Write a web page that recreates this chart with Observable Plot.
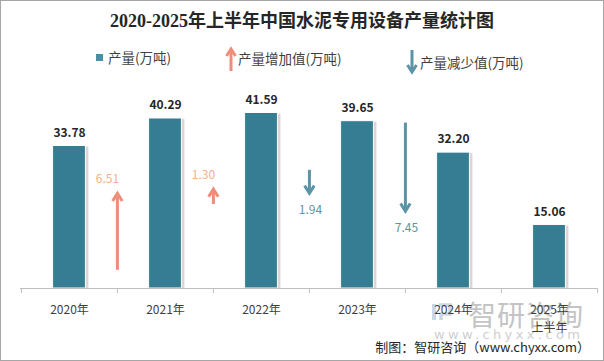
<!DOCTYPE html>
<html><head><meta charset="utf-8">
<script src="https://cdn.jsdelivr.net/npm/d3@7"></script>
<script src="https://cdn.jsdelivr.net/npm/@observablehq/plot@0.6"></script>
<style>
body{margin:0;background:#fff;}
#wrap{position:relative;width:604px;height:361px;overflow:hidden;font-family:"Noto Sans CJK SC","Noto Sans",sans-serif;background:#fff;}
#title{position:absolute;left:0;top:12px;width:604px;text-align:center;font-weight:bold;font-size:18px;line-height:18px;font-family:"Liberation Serif","Noto Sans CJK SC",serif;color:#262626;}
.leg{position:absolute;font-size:13.5px;color:#404040;white-space:nowrap;line-height:14px;}
.legicon{position:absolute;}
#chart{position:absolute;left:0;top:76px;}
#frame{position:absolute;left:0;top:0;width:602px;height:359px;border:1px solid #a6a6a6;pointer-events:none;}
#caption{position:absolute;right:14px;top:339px;font-size:13px;line-height:16px;color:#262626;white-space:nowrap;}
#wm1{position:absolute;left:468px;top:298px;font-size:28px;line-height:32px;color:#c4c4c4;letter-spacing:1px;white-space:nowrap;}
#wm2{position:absolute;left:434px;top:327px;font-size:13px;line-height:15px;color:#cfcfcf;letter-spacing:3.4px;white-space:nowrap;font-family:"DejaVu Sans",sans-serif;}
</style></head>
<body>
<div id="wrap">
  <div id="title">2020-2025年上半年中国水泥专用设备产量统计图</div>
  <div class="legicon" style="left:96px;top:54px;width:7px;height:7px;background:#4a8fa5;"></div>
  <div class="leg" style="left:108px;top:50px;">产量(万吨)</div>
  <svg class="legicon" style="left:224px;top:46px;" width="14" height="26"><path d="M7,25V4" stroke="#ef8e78" stroke-width="3" fill="none"/><path d="M2.5,10L7,3L11.5,10" stroke="#ef8e78" stroke-width="3" fill="none"/></svg>
  <div class="leg" style="left:238px;top:51px;">产量增加值(万吨)</div>
  <svg class="legicon" style="left:405px;top:49px;" width="14" height="26"><path d="M7,1V22" stroke="#5c93a7" stroke-width="3" fill="none"/><path d="M2.5,16L7,23L11.5,16" stroke="#5c93a7" stroke-width="3" fill="none"/></svg>
  <div class="leg" style="left:420px;top:55px;">产量减少值(万吨)</div>
  <svg class="legicon" style="left:431px;top:302px;" width="22" height="20"><rect x="1" y="2" width="4" height="16" fill="#c9d7e6"/><path d="M8,3H19V12H10V18" stroke="#c9d7e6" stroke-width="3.5" fill="none"/></svg>
  <div id="wm1">智研咨询</div>
  <div id="wm2">www.chyxx.com</div>
  <div id="chart"></div>
  <div id="caption">制图：智研咨询（www.chyxx.com）</div>
  <div id="frame"></div>
</div>
<script>
// ---- data ----
const years = ["2020年", "2021年", "2022年", "2023年", "2024年", "2025年\n上半年"];
const output = [33.78, 40.29, 41.59, 39.65, 32.20, 15.06];
const changeYears = ["2021年", "2022年", "2023年", "2024年"]; // arrow drawn at the left edge of this year
const changeValues = [6.51, 1.30, -1.94, -7.45];
const arrowStart = [4.3, 19.9, 28.0, 39.2]; // where each arrow begins, in 万吨 on the chart's axis

// ---- styles ----
const barColor = "#367c93";
const upColor = "#ef8e78", upLabel = "#f4b183";
const downColor = "#5c93a7", downLabel = "#5c93a7";
const arrowScale = 2.8;
const W = 604, ML = 20, MR = 7;
const bw = (W - ML - MR) / years.length;
const barInset = (bw - 33) / 2;

const rows = years.map((year, i) => ({year, value: output[i]}));
const arrows = changeYears.map((year, i) => ({
  year, change: changeValues[i], start: arrowStart[i],
  end: arrowStart[i] + changeValues[i] * arrowScale
}));
const ups = arrows.filter(d => d.change > 0);
const downs = arrows.filter(d => d.change < 0);

const chevronUp = {draw(ctx, size) { const r = Math.sqrt(size / Math.PI); ctx.moveTo(-0.6 * r, 0.95 * r); ctx.lineTo(0, 0); ctx.lineTo(0.6 * r, 0.95 * r); }};
const chevronDown = {draw(ctx, size) { const r = Math.sqrt(size / Math.PI); ctx.moveTo(-0.6 * r, -0.95 * r); ctx.lineTo(0, 0); ctx.lineTo(0.6 * r, -0.95 * r); }};

const chart = Plot.plot({
  width: W, height: 285,
  marginTop: 1, marginBottom: 73, marginLeft: ML, marginRight: MR,
  style: {background: "transparent", fontFamily: "Noto Sans CJK SC, Noto Sans, sans-serif", overflow: "visible"},
  x: {domain: years, padding: 0, axis: null},
  y: {domain: [0, 50], axis: null},
  marks: [
    Plot.barY(rows, {x: "year", y: "value", insetLeft: barInset, insetRight: barInset, fill: "#b8b8b8", opacity: 0.55, dx: 3, dy: 1}),
    Plot.barY(rows, {x: "year", y: "value", insetLeft: barInset, insetRight: barInset, fill: barColor, stroke: "#fff", strokeWidth: 1}),
    Plot.ruleY([0], {stroke: "#bfbfbf"}),
    Plot.ruleX(years, {x: d => d, y1: 0, y2: 0, insetBottom: -5, dx: -bw / 2, stroke: "#bfbfbf"}),
    Plot.ruleX([years[years.length - 1]], {x: d => d, y1: 0, y2: 0, insetBottom: -5, dx: bw / 2, stroke: "#bfbfbf"}),
    Plot.text(years, {x: d => d, frameAnchor: "bottom", text: d => d, lineAnchor: "top", dy: 13.5, lineHeight: 1.44, fontSize: 12, fill: "#404040"}),
    Plot.text(rows, {x: "year", y: "value", text: d => d.value.toFixed(2), dy: -13, fontSize: 12, fontWeight: "bold", fill: "#262626"}),
    Plot.ruleX(ups, {x: "year", y1: "start", y2: "end", dx: -bw / 2, stroke: upColor, strokeWidth: 3}),
    Plot.dot(ups, {x: "year", y: "end", dx: -bw / 2, symbol: chevronUp, r: 8, fill: "none", stroke: upColor, strokeWidth: 3}),
    Plot.ruleX(downs, {x: "year", y1: "start", y2: "end", dx: -bw / 2, stroke: downColor, strokeWidth: 3}),
    Plot.dot(downs, {x: "year", y: "end", dx: -bw / 2, symbol: chevronDown, r: 8, fill: "none", stroke: downColor, strokeWidth: 3}),
    Plot.text(ups, {x: "year", y: "end", text: d => Math.abs(d.change).toFixed(2), dx: -bw / 2 - 10, dy: -14, fontSize: 12, fill: upLabel}),
    Plot.text(downs, {x: "year", y: "end", text: d => Math.abs(d.change).toFixed(2), dx: -bw / 2 + 1, dy: 17, fontSize: 12, fill: downLabel})
  ]
});
document.getElementById("chart").appendChild(chart);
</script>
</body></html>
